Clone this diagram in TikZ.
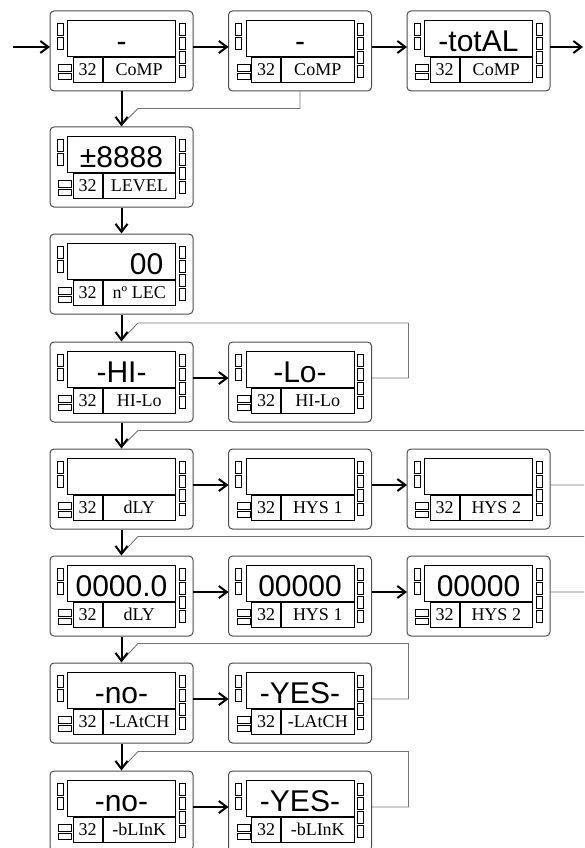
\documentclass[tikz,border=0pt]{standalone}
\usepackage{fontspec}
\setmainfont{Liberation Serif}
\newfontfamily\dispfont{Liberation Sans}
\usetikzlibrary{arrows.meta, calc}

\tikzset{
  meterbox/.style={draw=black!70, line width=1pt, rounded corners=4pt,
    minimum width=143pt, minimum height=80pt, inner sep=0pt},
  part/.style={draw=black, line width=0.8pt},
  disptext/.style={anchor=base, inner sep=0pt,
    font=\dispfont\fontsize{30}{30}\selectfont},
  labeltext/.style={anchor=base, inner sep=0pt,
    font=\fontsize{18}{18}\selectfont},
  flow/.style={line width=2pt, -{Straight Barb[length=8pt,width=12pt]}},
  back/.style={draw=black!55, line width=0.9pt}
}

% one panel meter: name, left, top, display, label
\newcommand{\meter}[5]{%
  \begin{scope}[shift={(#2,#3)}]
    \node[meterbox] (#1) at (71.5,40) {};
    \draw[part] (17.5,9) rectangle (125.5,45);
    \draw[part] (23,46.5) rectangle (52,71.5);
    \draw[part] (53,46.5) rectangle (125.5,71.5);
    \foreach \yy in {12,26} \draw[part] (7,\yy) rectangle (13,\yy+12);
    \foreach \yy in {12,26,40,54} \draw[part] (129,\yy) rectangle (135,\yy+12);
    \draw[part] (8.5,53.5) rectangle (21.5,60) (8.5,62) rectangle (21.5,68.5);
    \node[disptext] (#1 d) at (71.5,40.5) {#4};
    \node[labeltext] (#1 n) at (37.5,64.5) {32};
    \node[labeltext] (#1 l) at (89.25,64.5) {#5};
    \coordinate (#1 in) at (0,36);
    \coordinate (#1 out) at (143,36);
  \end{scope}}

\begin{document}
\begin{tikzpicture}[x=1pt, y=-1pt]
  \useasboundingbox (0,0) rectangle (584,848);
  \clip (0,0) rectangle (584,848);

  % Comparator
  \meter{cmpa}{50}{11}{-}{CoMP}
  \meter{cmpb}{228.5}{11}{-}{CoMP}
  \meter{cmpc}{407}{11}{-totAL}{CoMP}

  % Level and readings
  \meter{lvl}{50}{127}{\textpm8888}{LEVEL}
  \meter{lec}{50}{234}{\phantom{000}00}{nº LEC}

  % Hi / Lo
  \meter{hi}{50}{342}{-HI-}{HI-Lo}
  \meter{lo}{228.5}{342}{-Lo-}{HI-Lo}

  % Delay and hysteresis
  \meter{dlya}{50}{449}{}{dLY}
  \meter{hysa}{228.5}{449}{}{HYS 1}
  \meter{hysb}{407}{449}{}{HYS 2}
  \meter{dlyv}{50}{556}{0000.0}{dLY}
  \meter{hysc}{228.5}{556}{00000}{HYS 1}
  \meter{hysd}{407}{556}{00000}{HYS 2}

  % Latch and blink
  \meter{ltno}{50}{663}{-no-}{-LAtCH}
  \meter{ltyes}{228.5}{663}{-YES-}{-LAtCH}
  \meter{blno}{50}{771}{-no-}{-bLInK}
  \meter{blyes}{228.5}{771}{-YES-}{-bLInK}

  % Return lines
  \draw[back] (cmpb.south) |- ($(lvl.north)+(16.5,-18)$) -- ($(lvl.north)+(0,-1.5)$);
  \draw[back] (lo out) -- ++(37,0) |- ($(hi.north)+(16.5,-18.5)$) -- ($(hi.north)+(0,-1.5)$);
  \draw[back] (hysb out) -- ++(60,0) |- ($(dlya.north)+(16.5,-18)$) -- ($(dlya.north)+(0,-1.5)$);
  \draw[back] (hysd out) -- ++(60,0) |- ($(dlyv.north)+(16.5,-19)$) -- ($(dlyv.north)+(0,-1.5)$);
  \draw[back] (ltyes out) -- ++(37,0) |- ($(ltno.north)+(16.5,-19)$) -- ($(ltno.north)+(0,-1.5)$);
  \draw[back] (blyes out) -- ++(37,0) |- ($(blno.north)+(16.5,-19)$) -- ($(blno.north)+(0,-1.5)$);

  % Arrows
  \coordinate (start) at (13,47);
  \coordinate (end) at (583,47);
  \draw[flow] (start) -- (cmpa in);
  \draw[flow] (cmpa out) -- (cmpb in);
  \draw[flow] (cmpb out) -- (cmpc in);
  \draw[flow] (cmpc out) -- (end);
  \draw[flow] (cmpa.south) -- (lvl.north);
  \draw[flow] (lvl.south) -- (lec.north);
  \draw[flow] (lec.south) -- (hi.north);
  \draw[flow] (hi out) -- (lo in);
  \draw[flow] (hi.south) -- (dlya.north);
  \draw[flow] (dlya out) -- (hysa in);
  \draw[flow] (hysa out) -- (hysb in);
  \draw[flow] (dlya.south) -- (dlyv.north);
  \draw[flow] (dlyv out) -- (hysc in);
  \draw[flow] (hysc out) -- (hysd in);
  \draw[flow] (dlyv.south) -- (ltno.north);
  \draw[flow] (ltno out) -- (ltyes in);
  \draw[flow] (ltno.south) -- (blno.north);
  \draw[flow] (blno out) -- (blyes in);
\end{tikzpicture}
\end{document}
